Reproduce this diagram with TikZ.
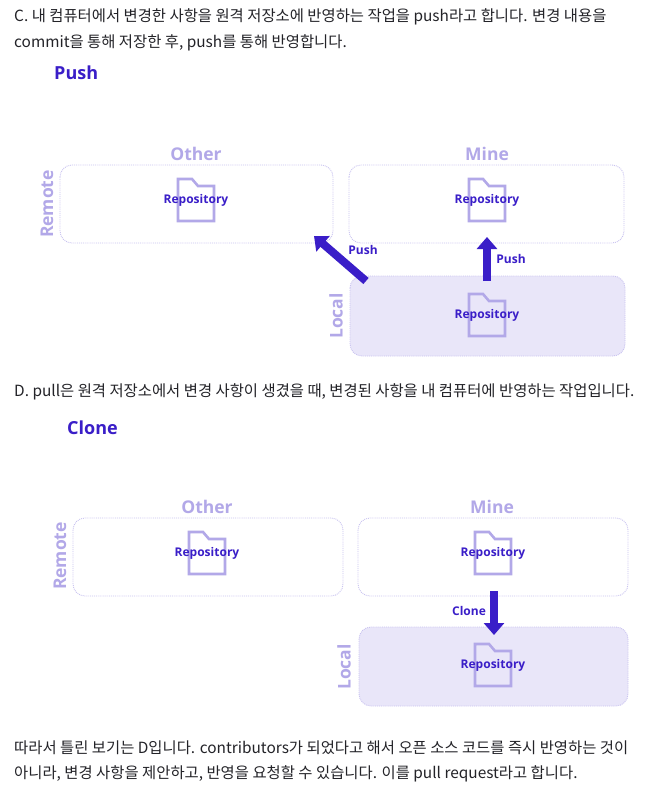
\documentclass[tikz,border=0pt]{standalone}
\usepackage{fontspec}
\setmainfont{Noto Sans CJK KR}
\newfontfamily\labelfont{Open Sans}
\usetikzlibrary{calc,arrows.meta}
\definecolor{ink}{RGB}{58,30,200}
\definecolor{pale}{RGB}{178,168,232}
\definecolor{rim}{RGB}{200,194,240}
\definecolor{lavender}{RGB}{233,230,249}
\definecolor{bodytext}{RGB}{35,35,40}
% folder icon with a repository label, placed at its centre
\newcommand{\repo}[2]{
  \draw[pale,line width=2.6pt] ($ (#2) + (-18,21) $) -- ++(0,-42) -- ++(14,0) -- ++(6,7) -- ++(16,0) -- ++(0,35) -- cycle;
  \node[repo text] (#1) at (#2) {Repository};
}
\begin{document}
\begin{tikzpicture}[x=1pt,y=-1pt,
    body/.style={anchor=west,inner sep=0pt,text=bodytext,font=\fontsize{15.4}{18}\selectfont},
    title/.style={anchor=west,inner sep=0pt,text=ink,font=\labelfont\bfseries\fontsize{18}{21}\selectfont},
    side/.style={inner sep=0pt,text=pale,font=\labelfont\bfseries\fontsize{17.5}{20}\selectfont},
    area/.style={draw=rim,densely dotted,line width=0.9pt,rounded corners=12pt},
    repo text/.style={inner sep=0pt,text=ink,font=\labelfont\bfseries\fontsize{12}{14}\selectfont},
    push/.style={ink,line width=8pt,-{Triangle[length=12pt,width=20pt]}},
    push label/.style={inner sep=0pt,text=ink,font=\labelfont\bfseries\fontsize{12}{14}\selectfont},
  ]
  \useasboundingbox[fill=white] (0,0) rectangle (670,798);

  \node[body] (line-c1) at (14,17) {C. 내 컴퓨터에서 변경한 사항을 원격 저장소에 반영하는 작업을 push라고 합니다. 변경 내용을};
  \node[body] (line-c2) at (14,43) {commit을 통해 저장한 후, push를 통해 반영합니다.};

  % push diagram
  \node[title] (push-title) at (54,73) {Push};
  \draw[area] (60,165) rectangle (333,243);
  \draw[area] (349,165) rectangle (624,243);
  \draw[area,fill=lavender] (350,276) rectangle (625,356);
  \node[side] (push-other) at (196,154) {Other};
  \node[side] (push-mine) at (487,154) {Mine};
  \node[side,rotate=90] (push-remote) at (47,204) {Remote};
  \node[side,rotate=90] (push-local) at (336,316) {Local};
  \repo{push-repo-other}{196,200}
  \repo{push-repo-mine}{487,200}
  \repo{push-repo-local}{487,315}
  \coordinate (push-from-a) at (366,281);
  \coordinate (push-to-a) at (314,236);
  \coordinate (push-from-b) at (487,281);
  \coordinate (push-to-b) at (487,237);
  \draw[push] (push-from-a) -- (push-to-a);
  \draw[push] (push-from-b) -- (push-to-b);
  \node[push label] (push-label-a) at (363,250) {Push};
  \node[push label] (push-label-b) at (511,259) {Push};

  \node[body] (line-d) at (14,392) {D. pull은 원격 저장소에서 변경 사항이 생겼을 때, 변경된 사항을 내 컴퓨터에 반영하는 작업입니다.};

  % clone diagram
  \node[title] (clone-title) at (67,428) {Clone};
  \draw[area] (73,518) rectangle (343,596);
  \draw[area] (358,518) rectangle (628,596);
  \draw[area,fill=lavender] (359,627) rectangle (628,706);
  \node[side] (clone-other) at (207,507) {Other};
  \node[side] (clone-mine) at (492,507) {Mine};
  \node[side,rotate=90] (clone-remote) at (60,556) {Remote};
  \node[side,rotate=90] (clone-local) at (344,667) {Local};
  \repo{clone-repo-other}{207,553}
  \repo{clone-repo-mine}{493,553}
  \repo{clone-repo-local}{493,665}
  \coordinate (clone-from) at (494,591);
  \coordinate (clone-to) at (494,635);
  \draw[push] (clone-from) -- (clone-to);
  \node[push label] (clone-label) at (469,611) {Clone};

  \node[body] (line-e1) at (14,748) {따라서 틀린 보기는 D입니다. contributors가 되었다고 해서 오픈 소스 코드를 즉시 반영하는 것이};
  \node[body] (line-e2) at (14,774) {아니라, 변경 사항을 제안하고, 반영을 요청할 수 있습니다. 이를 pull request라고 합니다.};
\end{tikzpicture}
\end{document}
